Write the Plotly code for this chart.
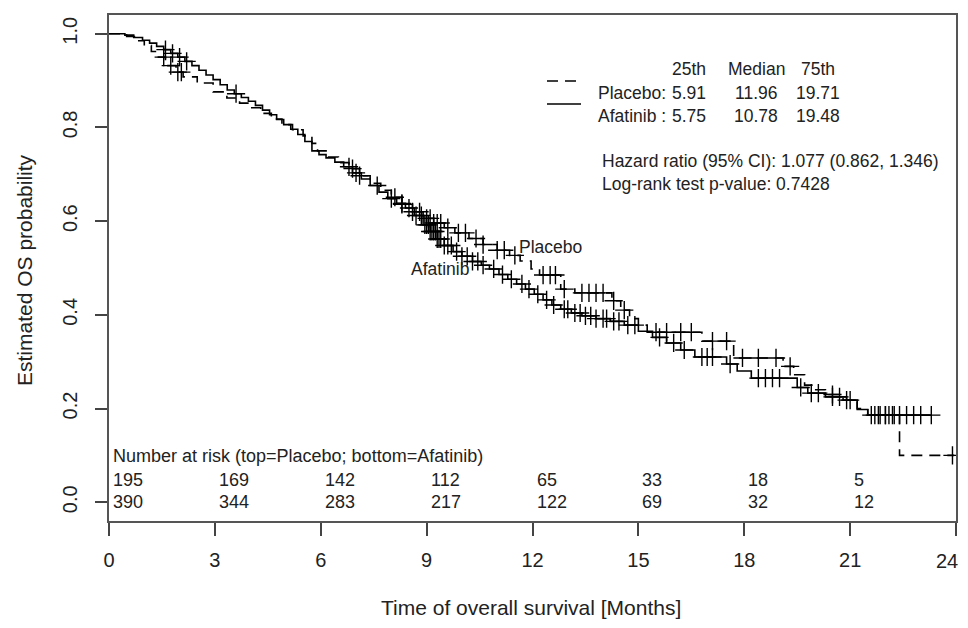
import numpy as np
import plotly.graph_objects as go

# ---------------- data ----------------
# Kaplan-Meier step points (event times in months, survival after step)
placebo_t = [0, 0.5, 0.8, 1.0, 1.2, 1.35, 1.6, 1.9, 2.1, 2.5, 2.95, 3.34, 3.7, 4.0, 4.3,
             4.6, 4.9, 5.2, 5.5, 5.75, 5.91, 6.2, 6.5, 6.8, 7.1, 7.4, 7.7, 8.0, 8.3, 8.6,
             8.9, 9.2, 9.5, 9.8, 10.2, 10.6, 11.0, 11.35, 11.65, 11.96, 12.2, 12.8, 13.2,
             14.25, 14.5, 14.75, 15.0, 15.25, 16.8, 17.7, 19.1, 19.4, 19.71, 19.95, 20.3,
             20.8, 21.2, 21.5, 22.4]
placebo_s = [1.0, 0.994, 0.985, 0.975, 0.962, 0.950, 0.932, 0.918, 0.908, 0.895, 0.876, 0.863,
             0.852, 0.842, 0.830, 0.818, 0.806, 0.795, 0.782, 0.766, 0.750, 0.737, 0.725,
             0.712, 0.697, 0.681, 0.666, 0.651, 0.636, 0.620, 0.606, 0.596, 0.586, 0.575,
             0.563, 0.550, 0.538, 0.527, 0.515, 0.498, 0.485, 0.455, 0.447, 0.430, 0.410,
             0.392, 0.378, 0.363, 0.344, 0.308, 0.290, 0.272, 0.250, 0.240, 0.230, 0.218,
             0.200, 0.186, 0.100]
placebo_end = 23.95

afatinib_t = [0, 0.45, 0.7, 0.95, 1.15, 1.35, 1.55, 1.75, 1.95, 2.15, 2.35, 2.55, 2.75, 2.95,
              3.15, 3.35, 3.55, 3.75, 3.95, 4.15, 4.35, 4.55, 4.75, 4.95, 5.15, 5.35, 5.55,
              5.75, 5.95, 6.15, 6.4, 6.65, 6.9, 7.15, 7.4, 7.65, 7.9, 8.15, 8.4, 8.65, 8.9,
              9.1, 9.3, 9.5, 9.75, 10.0, 10.3, 10.55, 10.78, 11.05, 11.3, 11.55, 11.8, 12.05,
              12.3, 12.55, 12.8, 13.1, 13.4, 13.8, 14.2, 14.6, 15.0, 15.4, 15.8, 16.2, 16.6,
              17.5, 17.8, 18.2, 19.5, 19.8, 20.3, 20.9, 21.2, 21.5]
afatinib_s = [1.0, 0.997, 0.992, 0.986, 0.980, 0.973, 0.966, 0.958, 0.950, 0.941, 0.932, 0.922,
              0.912, 0.902, 0.891, 0.880, 0.872, 0.864, 0.856, 0.847, 0.837, 0.827, 0.817,
              0.806, 0.796, 0.785, 0.770, 0.750, 0.742, 0.735, 0.726, 0.716, 0.703, 0.690,
              0.676, 0.662, 0.648, 0.638, 0.628, 0.612, 0.592, 0.578, 0.562, 0.548, 0.535,
              0.525, 0.514, 0.506, 0.498, 0.486, 0.476, 0.466, 0.455, 0.444, 0.432, 0.421,
              0.412, 0.404, 0.398, 0.392, 0.386, 0.378, 0.365, 0.352, 0.340, 0.325, 0.310,
              0.295, 0.280, 0.265, 0.245, 0.233, 0.225, 0.218, 0.198, 0.186]
afatinib_end = 23.3

# censoring times (+ marks)
placebo_cens = [1.55, 1.75, 1.95, 2.05, 6.9, 7.1, 8.1, 8.3, 8.6, 8.8, 9.0, 9.1, 9.2, 9.3, 9.4,
                9.6, 9.9, 10.1, 10.4, 10.6, 11.0, 11.2, 11.5, 12.3, 12.5, 12.65, 12.9, 13.4,
                13.6, 13.8, 14.0, 14.3, 14.6, 15.5, 15.8, 16.2, 16.5, 17.1, 17.5, 17.95, 18.4,
                18.9, 19.3, 20.5, 20.9, 21.6, 21.8, 22.0, 22.2, 23.9]
afatinib_cens = [1.6, 1.8, 2.0, 2.2, 3.6, 6.8, 7.0, 7.6, 8.0, 8.3, 8.5, 8.7, 8.85, 8.95, 9.0,
                 9.05, 9.1, 9.15, 9.2, 9.25, 9.3, 9.35, 9.4, 9.5, 9.6, 9.7, 9.85, 10.0, 10.15,
                 10.3, 10.45, 10.6, 10.9, 11.15, 11.4, 11.7, 11.9, 12.15, 12.4, 12.6, 12.9,
                 13.0, 13.2, 13.35, 13.5, 13.65, 13.8, 14.0, 14.1, 14.3, 14.45, 14.7, 14.9,
                 15.6, 16.0, 16.3, 16.8, 16.95, 17.1, 17.6, 18.4, 18.6, 18.8, 19.0, 19.6, 19.9,
                 20.1, 20.5, 20.7, 21.0, 21.7, 21.85, 22.0, 22.1, 22.25, 22.4, 22.6, 22.8,
                 23.0, 23.3]

# number at risk
risk_times = [0, 3, 6, 9, 12, 15, 18, 21]
risk_placebo = [195, 169, 142, 112, 65, 33, 18, 5]
risk_afatinib = [390, 344, 283, 217, 122, 69, 32, 12]

# summary table
quant_headers = ["25th", "Median", "75th"]
placebo_quant = ["5.91", "11.96", "19.71"]
afatinib_quant = ["5.75", "10.78", "19.48"]
hr_text = "Hazard ratio (95% CI): 1.077 (0.862, 1.346)"
p_text = "Log-rank test p-value: 0.7428"

x_ticks = [0, 3, 6, 9, 12, 15, 18, 21, 24]
y_ticks = [0.0, 0.2, 0.4, 0.6, 0.8, 1.0]

FONT = "Liberation Sans, Arial, sans-serif"
INK = "#222222"

# page offset: the html body adds an 8px margin
OFF = 8
FIG_W, FIG_H = 968 - OFF, 628 - 2 * OFF
L, R, T, B = 109 - OFF, 12, 15 - OFF, 107 - OFF
W, H = FIG_W - L - R, FIG_H - T - B


def px(x):
    """page pixel x -> paper fraction"""
    return (x - OFF - L) / W


def py(y):
    """page pixel y -> paper fraction"""
    return (FIG_H - B - (y - OFF)) / H


def step_value(times, surv, x):
    idx = np.searchsorted(np.array(times), np.array(x), side="right") - 1
    return np.array(surv)[idx]


fig = go.Figure()

# curves
fig.add_trace(go.Scatter(x=placebo_t + [placebo_end], y=placebo_s + [placebo_s[-1]],
                         mode="lines", line=dict(shape="hv", color="black", width=1.6, dash="11px,7px"),
                         name="Placebo", showlegend=False))
fig.add_trace(go.Scatter(x=afatinib_t + [afatinib_end], y=afatinib_s + [afatinib_s[-1]],
                         mode="lines", line=dict(shape="hv", color="black", width=1.6),
                         name="Afatinib", showlegend=False))

# censor marks
for t_, s_, c_ in [(placebo_t, placebo_s, placebo_cens), (afatinib_t, afatinib_s, afatinib_cens)]:
    fig.add_trace(go.Scatter(x=c_, y=step_value(t_, s_, c_), mode="markers",
                             marker=dict(symbol="cross-thin", size=13,
                                         line=dict(color="black", width=1.4)),
                             showlegend=False, hoverinfo="skip"))

TXT = 17.5
ann = []
# curve labels
ann.append(dict(x=11.55, y=0.545, xref="x", yref="y", text="Placebo", showarrow=False,
                xanchor="left", font=dict(size=TXT, color=INK, family=FONT)))
ann.append(dict(x=10.25, y=0.497, xref="x", yref="y", text="Afatinib", showarrow=False,
                xanchor="right", font=dict(size=TXT, color=INK, family=FONT)))

# number at risk
ann.append(dict(x=0.06, y=0.098, xref="x", yref="y", showarrow=False, xanchor="left",
                text="Number at risk (top=Placebo; bottom=Afatinib)",
                font=dict(size=18, color=INK, family=FONT)))
for t, a, b in zip(risk_times, risk_placebo, risk_afatinib):
    ann.append(dict(x=t + 0.06, y=0.047, xref="x", yref="y", text=str(a), showarrow=False,
                    xanchor="left", font=dict(size=18, color=INK, family=FONT)))
    ann.append(dict(x=t + 0.06, y=0.0, xref="x", yref="y", text=str(b), showarrow=False,
                    xanchor="left", font=dict(size=18, color=INK, family=FONT)))

col_x = [689, 756, 818]
for cx, h in zip(col_x, quant_headers):
    ann.append(dict(x=px(cx), y=py(57), xref="paper", yref="paper", text=h, showarrow=False,
                    xanchor="center", font=dict(size=TXT, color=INK, family=FONT)))
for rowy, lab, vals in [(81, "Placebo:", placebo_quant), (104, "Afatinib :", afatinib_quant)]:
    ann.append(dict(x=px(596), y=py(rowy), xref="paper", yref="paper", text=lab, showarrow=False,
                    xanchor="left", font=dict(size=TXT, color=INK, family=FONT)))
    for cx, v in zip(col_x, vals):
        ann.append(dict(x=px(cx), y=py(rowy), xref="paper", yref="paper", text=v, showarrow=False,
                        xanchor="center", font=dict(size=TXT, color=INK, family=FONT)))
ann.append(dict(x=px(600), y=py(149), xref="paper", yref="paper", text=hr_text, showarrow=False,
                xanchor="left", font=dict(size=TXT, color=INK, family=FONT)))
ann.append(dict(x=px(600), y=py(172), xref="paper", yref="paper", text=p_text, showarrow=False,
                xanchor="left", font=dict(size=TXT, color=INK, family=FONT)))

# axis titles placed as annotations (pixel-accurate)
ann.append(dict(x=px(531), y=py(607), xref="paper", yref="paper",
                text="Time of overall survival [Months]", showarrow=False,
                xanchor="center", yanchor="middle", font=dict(size=21, color=INK, family=FONT)))
ann.append(dict(x=px(24), y=py(270), xref="paper", yref="paper",
                text="Estimated OS probability", showarrow=False, textangle=-90,
                xanchor="center", yanchor="middle", font=dict(size=21, color=INK, family=FONT)))

# last x tick label sits at the page edge: draw it right-aligned so it is not clipped
x_ticktext = [str(v) for v in x_ticks]
last_label = x_ticktext[-1]
x_ticktext[-1] = ""
ann.append(dict(x=x_ticks[-1], y=py(561), xref="x", yref="paper", text=last_label,
                showarrow=False, xanchor="right", yanchor="middle", xshift=4,
                font=dict(size=20, color=INK, family=FONT)))

shapes = [
    dict(type="line", xref="paper", yref="paper", x0=px(547), x1=px(581), y0=py(81), y1=py(81),
         line=dict(color="black", width=1.6, dash="11px,7px")),
    dict(type="line", xref="paper", yref="paper", x0=px(547), x1=px(581), y0=py(104), y1=py(104),
         line=dict(color="black", width=1.6)),
]

fig.update_layout(
    width=FIG_W, height=FIG_H,
    margin=dict(l=L, r=R, t=T, b=B, autoexpand=False),
    plot_bgcolor="white", paper_bgcolor="white",
    font=dict(family=FONT, color=INK),
    annotations=ann, shapes=shapes,
    showlegend=False,
)
fig.update_xaxes(range=[0, 24], tickvals=x_ticks, ticktext=x_ticktext,
                 ticks="outside", ticklen=13, tickwidth=1.5, tickcolor="#444",
                 showline=True, mirror=True, linecolor="#555", linewidth=2,
                 showgrid=False, zeroline=False, tickfont=dict(size=20, color=INK),
                 ticklabelstandoff=7, automargin=False)
fig.update_yaxes(range=[-0.04, 1.04], tickvals=y_ticks, ticktext=[f"{v:.1f}" for v in y_ticks],
                 ticks="outside", ticklen=12, tickwidth=1.5, tickcolor="#444", tickangle=-90,
                 showline=True, mirror=True, linecolor="#555", linewidth=2,
                 showgrid=False, zeroline=False, tickfont=dict(size=20, color=INK),
                 ticklabelstandoff=10, automargin=False)

fig.write_html("out.html")
